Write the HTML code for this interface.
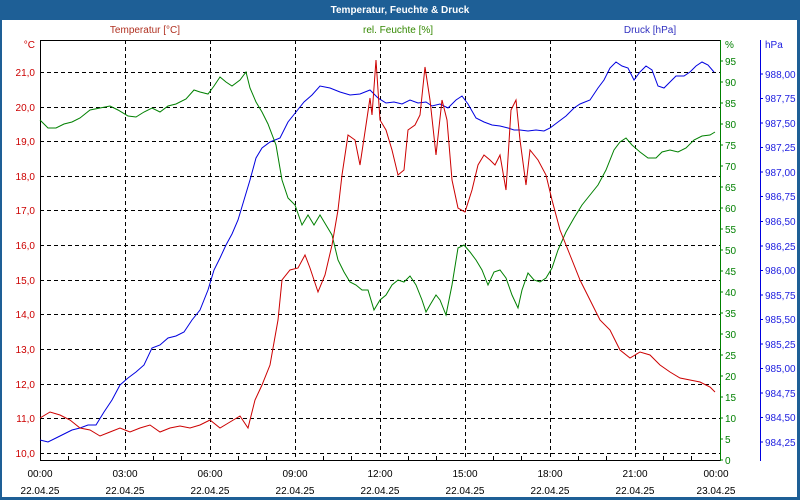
<!DOCTYPE html>
<html><head><meta charset="utf-8"><style>
body{margin:0;width:800px;height:500px;overflow:hidden;background:#fff}
svg{display:block;font-family:"Liberation Sans",sans-serif;font-size:10px}
</style></head><body>
<svg width="800" height="500" xmlns="http://www.w3.org/2000/svg">
<rect x="0" y="0" width="800" height="500" fill="#1e5f96"/>
<rect x="2" y="20" width="795" height="477" fill="#fff"/>
<text x="400" y="13" fill="#fff" font-weight="bold" font-size="10" text-anchor="middle">Temperatur, Feuchte &amp; Druck</text>
<text x="145" y="33" fill="#b03020" text-anchor="middle">Temperatur [°C]</text>
<text x="398" y="33" fill="#338800" text-anchor="middle">rel. Feuchte [%]</text>
<text x="650" y="33" fill="#3030c0" text-anchor="middle">Druck [hPa]</text>
<text x="35" y="48" fill="#cc0000" text-anchor="end">°C</text>
<text x="725" y="48" fill="#008000">%</text>
<text x="765" y="48" fill="#2020e0">hPa</text>
<g stroke="#000" stroke-dasharray="4,3" stroke-width="1">
<line x1="125.5" y1="40" x2="125.5" y2="460"/><line x1="210.5" y1="40" x2="210.5" y2="460"/><line x1="295.5" y1="40" x2="295.5" y2="460"/><line x1="380.5" y1="40" x2="380.5" y2="460"/><line x1="465.5" y1="40" x2="465.5" y2="460"/><line x1="550.5" y1="40" x2="550.5" y2="460"/><line x1="635.5" y1="40" x2="635.5" y2="460"/>
<line x1="40" y1="72.5" x2="720" y2="72.5"/><line x1="40" y1="107.5" x2="720" y2="107.5"/><line x1="40" y1="141.5" x2="720" y2="141.5"/><line x1="40" y1="176.5" x2="720" y2="176.5"/><line x1="40" y1="210.5" x2="720" y2="210.5"/><line x1="40" y1="245.5" x2="720" y2="245.5"/><line x1="40" y1="280.5" x2="720" y2="280.5"/><line x1="40" y1="314.5" x2="720" y2="314.5"/><line x1="40" y1="349.5" x2="720" y2="349.5"/><line x1="40" y1="384.5" x2="720" y2="384.5"/><line x1="40" y1="418.5" x2="720" y2="418.5"/><line x1="40" y1="453.5" x2="720" y2="453.5"/>
</g>
<rect x="40.5" y="40.5" width="680" height="420" fill="none" stroke="#000"/>
<line x1="720.5" y1="40" x2="720.5" y2="461" stroke="#008000"/>
<line x1="760.5" y1="40" x2="760.5" y2="461" stroke="#0000e0"/>
<path stroke="#008000" d="M720 460h3M720 439h3M720 418h3M720 397h3M720 376h3M720 355h3M720 334h3M720 313h3M720 292h3M720 271h3M720 250h3M720 229h3M720 208h3M720 187h3M720 166h3M720 145h3M720 124h3M720 103h3M720 82h3M720 61h3"/>
<path stroke="#0000e0" d="M760 442h3M760 417.5h3M760 393h3M760 368.5h3M760 344h3M760 319.5h3M760 295h3M760 270.5h3M760 246h3M760 221.5h3M760 196.5h3M760 172h3M760 147.5h3M760 123h3M760 98.5h3M760 74h3"/>
<path stroke="#000" d="M68.5 456v4M96.5 456v4M153.5 456v4M181.5 456v4M238.5 456v4M266.5 456v4M323.5 456v4M351.5 456v4M408.5 456v4M436.5 456v4M493.5 456v4M521.5 456v4M578.5 456v4M606.5 456v4M663.5 456v4M691.5 456v4"/>
<g fill="#cc0000" text-anchor="end">
<text x="35" y="76">21,0</text><text x="35" y="111">20,0</text><text x="35" y="145">19,0</text><text x="35" y="180">18,0</text><text x="35" y="214">17,0</text><text x="35" y="249">16,0</text><text x="35" y="284">15,0</text><text x="35" y="318">14,0</text><text x="35" y="353">13,0</text><text x="35" y="388">12,0</text><text x="35" y="422">11,0</text><text x="35" y="457">10,0</text>
</g>
<g fill="#008000">
<text x="725" y="464">0</text><text x="725" y="443">5</text><text x="725" y="422">10</text><text x="725" y="401">15</text><text x="725" y="380">20</text><text x="725" y="359">25</text><text x="725" y="338">30</text><text x="725" y="317">35</text><text x="725" y="296">40</text><text x="725" y="275">45</text><text x="725" y="254">50</text><text x="725" y="233">55</text><text x="725" y="212">60</text><text x="725" y="191">65</text><text x="725" y="170">70</text><text x="725" y="149">75</text><text x="725" y="128">80</text><text x="725" y="107">85</text><text x="725" y="86">90</text><text x="725" y="65">95</text>
</g>
<g fill="#2020e0">
<text x="765" y="446">984,25</text><text x="765" y="421">984,50</text><text x="765" y="397">984,75</text><text x="765" y="372">985,00</text><text x="765" y="348">985,25</text><text x="765" y="323">985,50</text><text x="765" y="299">985,75</text><text x="765" y="274">986,00</text><text x="765" y="250">986,25</text><text x="765" y="225">986,50</text><text x="765" y="200">986,75</text><text x="765" y="176">987,00</text><text x="765" y="151">987,25</text><text x="765" y="127">987,50</text><text x="765" y="102">987,75</text><text x="765" y="78">988,00</text>
</g>
<g fill="#000" text-anchor="middle">
<text x="40" y="477">00:00</text><text x="125" y="477">03:00</text><text x="210" y="477">06:00</text><text x="295" y="477">09:00</text><text x="380" y="477">12:00</text><text x="465" y="477">15:00</text><text x="550" y="477">18:00</text><text x="635" y="477">21:00</text><text x="716" y="477">00:00</text>
<text x="40" y="494">22.04.25</text><text x="125" y="494">22.04.25</text><text x="210" y="494">22.04.25</text><text x="295" y="494">22.04.25</text><text x="380" y="494">22.04.25</text><text x="465" y="494">22.04.25</text><text x="550" y="494">22.04.25</text><text x="635" y="494">22.04.25</text><text x="716" y="494">23.04.25</text>
</g>
<polyline fill="none" stroke="#0000e0" points="40,440 48,442 56,438 64,434 72,430 80,428 88,425 96,425 104,412 112,400 120,385 128,378 136,372 144,365 152,348 160,345 168,338 176,336 184,332 192,320 200,310 208,290 214,270 220,258 226,245 232,234 238,220 244,200 250,180 256,158 262,148 270,142 280,138 288,122 296,112 304,102 312,95 320,86 330,88 340,92 350,95 360,94 370,90 378,98 386,103 394,102 402,104 410,100 418,103 426,102 432,106 440,104 448,108 456,100 462,96 468,104 476,118 484,122 492,125 500,126 508,128 514,130 520,130 528,131 536,130 544,131 550,128 558,122 566,116 574,108 580,104 590,100 598,88 604,80 610,68 616,62 622,66 628,68 634,80 640,72 646,66 652,70 658,86 664,88 670,82 676,76 684,76 690,72 696,66 702,62 708,65 714,72"/>
<polyline fill="none" stroke="#008000" points="40,120 48,128 56,128 64,124 72,122 80,118 90,110 100,108 110,106 118,110 128,116 136,117 144,112 152,108 160,112 168,106 176,104 186,99 194,90 200,92 208,94 214,86 220,77 226,82 232,86 240,80 246,72 250,88 256,102 262,112 268,124 276,145 282,180 288,198 295,205 302,225 308,215 314,225 320,215 326,225 332,235 338,260 344,272 350,282 356,285 362,290 368,290 374,310 380,300 386,295 392,285 398,280 404,282 410,276 416,285 422,300 426,312 430,305 436,295 440,300 446,315 452,285 458,248 464,245 470,252 476,260 482,270 488,285 494,272 500,270 506,278 512,295 518,308 522,290 528,273 534,280 540,282 546,278 552,268 558,250 566,232 574,218 582,205 590,195 598,185 606,170 614,150 620,142 626,138 632,145 640,152 648,158 656,158 662,152 670,150 678,152 686,148 694,140 702,136 710,135 715,132"/>
<polyline fill="none" stroke="#cc0000" points="40,418 50,412 60,415 70,420 80,428 90,430 100,436 110,432 120,428 130,432 140,428 150,425 160,432 170,428 180,426 190,428 200,425 210,420 220,428 230,422 240,416 248,428 255,400 262,385 270,365 278,320 282,280 290,270 298,268 305,255 310,268 318,292 325,275 332,245 338,210 342,175 348,135 355,140 360,165 366,125 370,98 372,115 376,60 380,120 386,130 392,150 398,175 404,170 408,130 415,125 420,115 425,67 430,100 436,155 442,100 447,120 452,180 458,208 465,212 472,190 478,165 484,155 490,160 495,165 500,155 506,190 511,110 516,100 520,140 526,185 530,150 538,160 546,175 552,200 560,230 570,255 580,280 590,300 600,320 610,330 620,350 630,358 640,352 650,355 660,365 670,372 680,378 690,380 700,382 710,387 715,392"/>
</svg>
</body></html>
